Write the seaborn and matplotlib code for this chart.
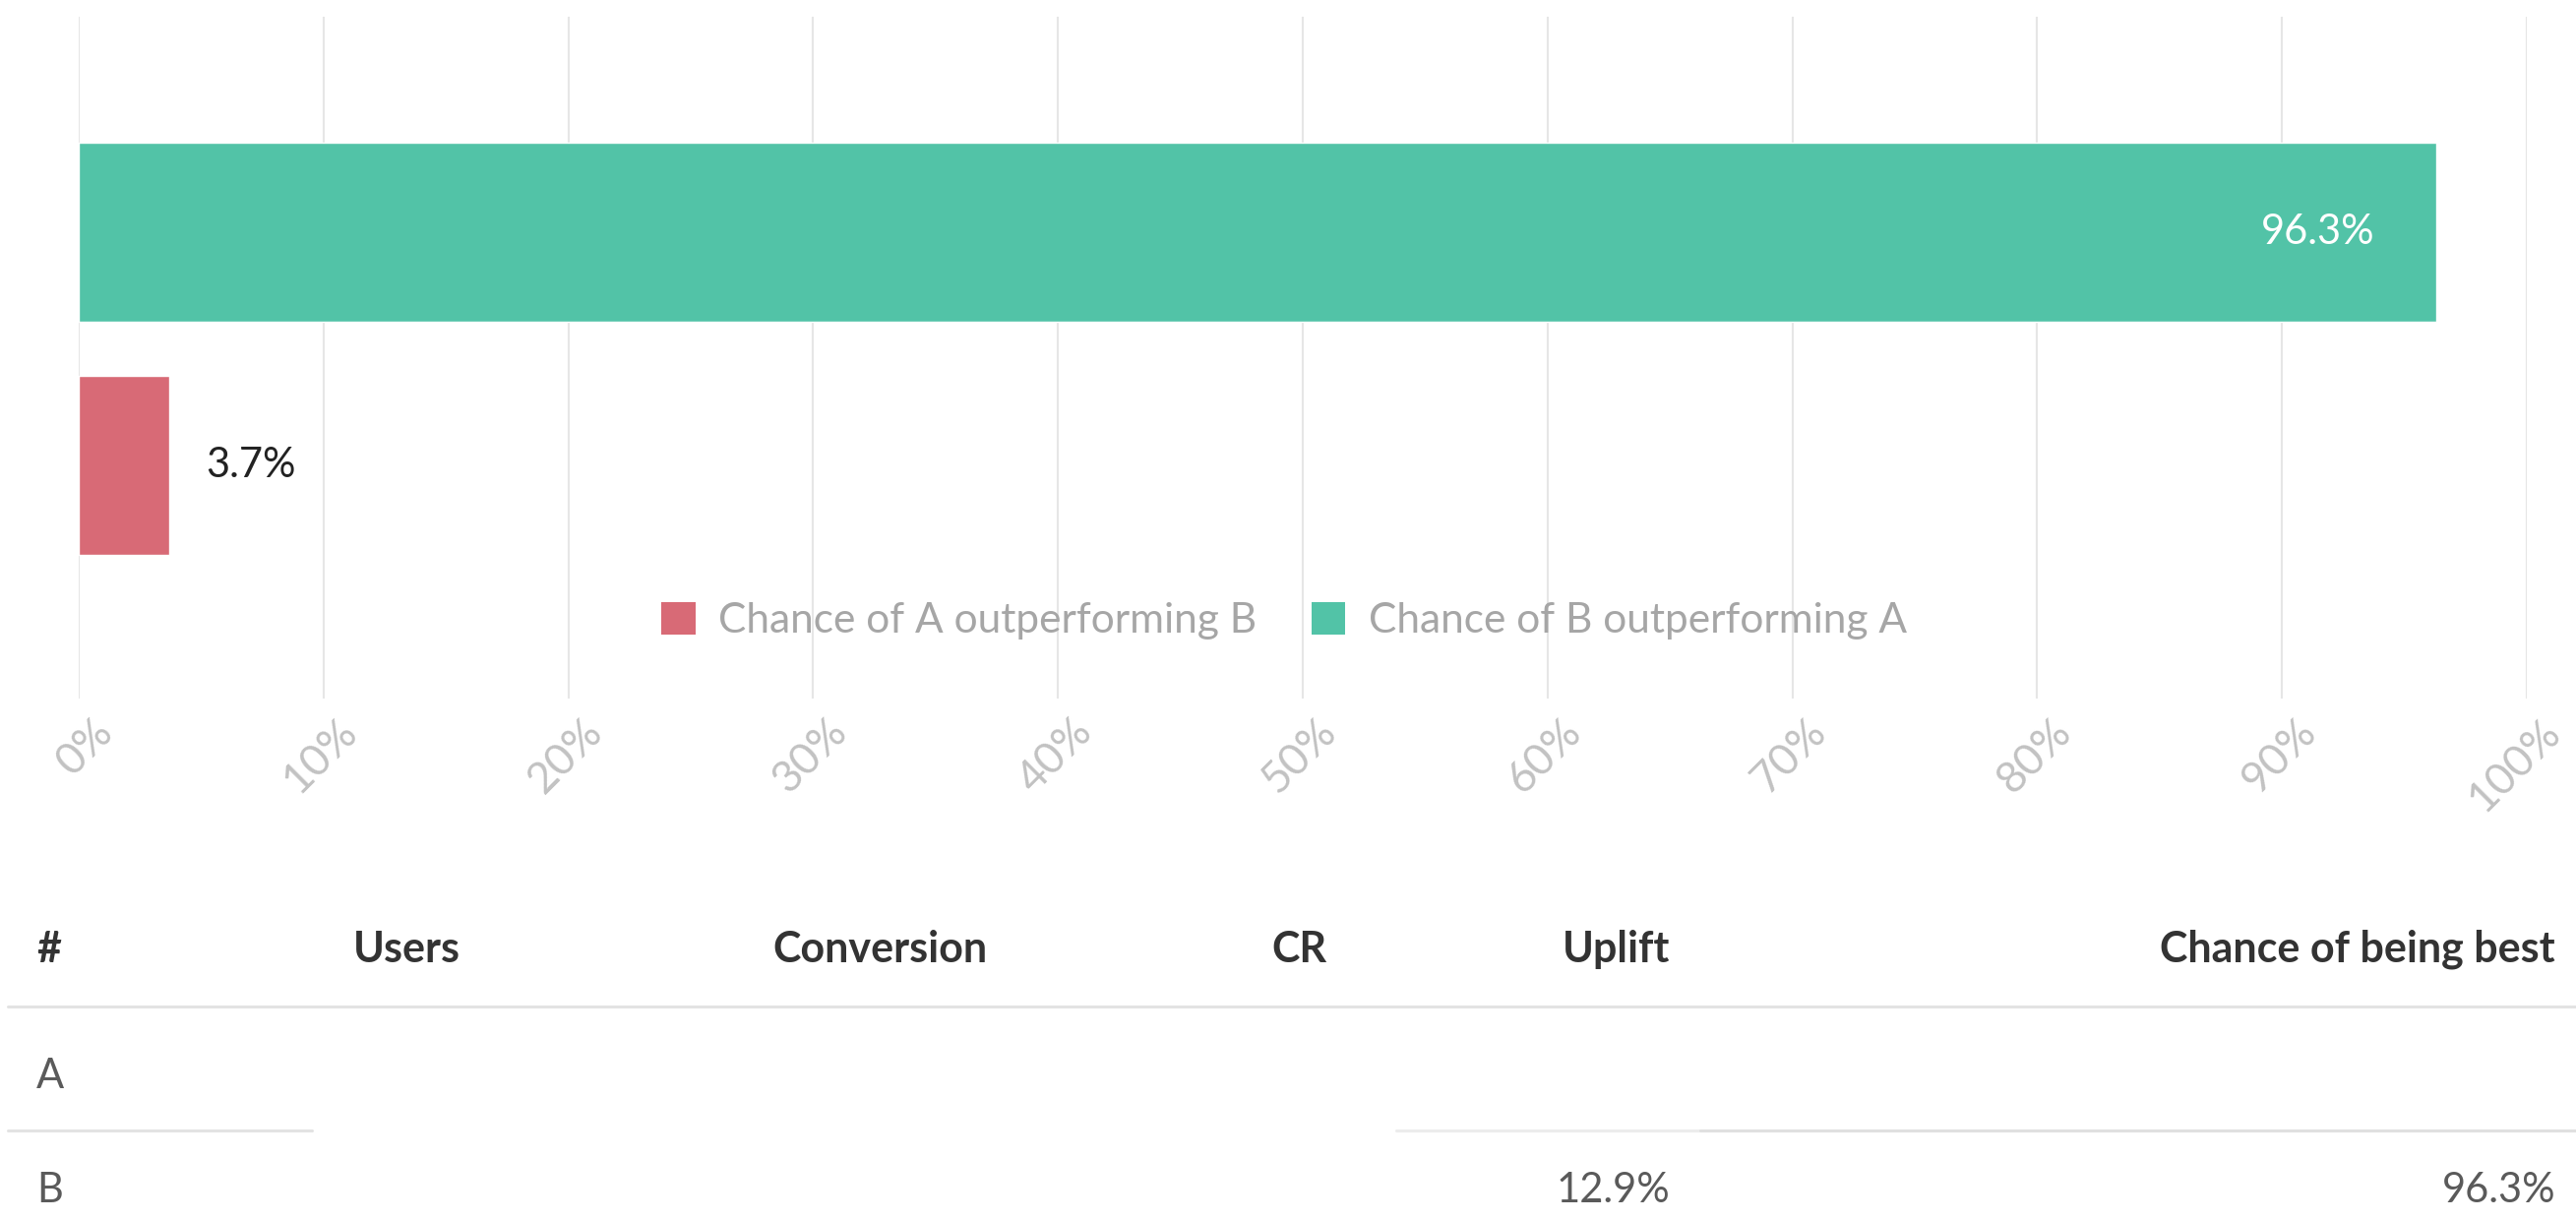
import matplotlib
matplotlib.use("Agg")
import matplotlib.pyplot as plt
import matplotlib.transforms as mtransforms
import seaborn as sns
from matplotlib.patches import Patch
from matplotlib.lines import Line2D

# ---- data ----
series_labels = ["Chance of B outperforming A", "Chance of A outperforming B"]
series_values = [96.3, 3.7]
series_colors = ["#52C3A7", "#D86A76"]
x_ticks = [0, 10, 20, 30, 40, 50, 60, 70, 80, 90, 100]
x_tick_labels = [f"{t}%" for t in x_ticks]

table_columns = ["#", "Users", "Conversion", "CR", "Uplift", "Chance of being best"]
table_rows = [
    ["A", "", "", "", "", ""],
    ["B", "", "", "", "12.9%", "96.3%"],
]

# ---- style ----
sns.set_theme(style="white")
plt.rcParams["font.family"] = ["Lato", "DejaVu Sans"]

W, H = 2618, 1240
fig = plt.figure(figsize=(W / 100, H / 100), dpi=100)

def fx(px):
    return px / W

def fy(py):
    return 1 - py / H

ax = fig.add_axes([fx(80), fy(710), fx(2568) - fx(80), fy(17) - fy(710)])

sns.barplot(x=series_values, y=series_labels, hue=series_labels,
            palette=series_colors, width=0.77, legend=False, orient="h",
            ax=ax, saturation=1)

ax.set_xlim(0, 100)
ax.set_ylim(2.0, -0.924)
ax.set_xticks(x_ticks)
ax.set_xticklabels(x_tick_labels)
ax.set_yticks([])
ax.set_ylabel("")
ax.set_xlabel("")
for s in ax.spines.values():
    s.set_visible(False)
ax.xaxis.grid(True, color="#e6e6e6", linewidth=1.5)
ax.set_axisbelow(True)
ax.tick_params(axis="x", length=0, pad=20, labelsize=32, labelcolor="#c2c2c2")
shift = mtransforms.ScaledTranslation(28 / 100, 0, fig.dpi_scale_trans)
for lab in ax.get_xticklabels():
    lab.set_rotation(45)
    lab.set_ha("right")
    lab.set_va("center")
    lab.set_rotation_mode("anchor")
    lab.set_transform(lab.get_transform() + shift)

# bar value labels
for cont in ax.containers:
    for bar in cont:
        v = bar.get_width()
        yc = bar.get_y() + bar.get_height() / 2
        if v > 50:
            ax.annotate(f"{v:.1f}%", xy=(v, yc), xytext=(-45, 0),
                        textcoords="offset points", ha="right", va="center",
                        color="white", fontsize=30)
        else:
            ax.annotate(f"{v:.1f}%", xy=(v, yc), xytext=(27, 0),
                        textcoords="offset points", ha="left", va="center",
                        color="#222222", fontsize=30)

# legend
handles = [Patch(facecolor=series_colors[1], edgecolor="none", label=series_labels[1]),
           Patch(facecolor=series_colors[0], edgecolor="none", label=series_labels[0])]
leg = fig.legend(handles=handles, loc="center", bbox_to_anchor=(fx(1305), fy(631)),
                 ncol=2, frameon=False, fontsize=30.5, handlelength=0.82, handleheight=0.82,
                 handletextpad=0.55, columnspacing=1.3)
for t in leg.get_texts():
    t.set_color("#a6a6a6")

# ---- table ----
col_x = [37, 359, 785, 1349, 1697, 2597]
col_ha = ["left", "left", "left", "right", "right", "right"]
header_y = 965
row_y = [1094, 1210]

for name, x, ha in zip(table_columns, col_x, col_ha):
    fig.text(fx(x), fy(header_y), name, ha=ha, va="center", fontsize=31,
             fontweight="bold", color="#333333")

for r, yv in zip(table_rows, row_y):
    for val, x, ha in zip(r, col_x, col_ha):
        if val:
            fig.text(fx(x), fy(yv), val, ha=ha, va="center", fontsize=30,
                     color="#5a5a5a")

# table rules
fig.add_artist(Line2D([fx(8), fx(2618)], [fy(1023), fy(1023)], color="#e3e3e3", lw=2.2))
fig.add_artist(Line2D([fx(8), fx(317)], [fy(1149), fy(1149)], color="#e3e3e3", lw=2.2))
fig.add_artist(Line2D([fx(1419), fx(1728)], [fy(1149), fy(1149)], color="#ececec", lw=2.2))
fig.add_artist(Line2D([fx(1728), fx(2618)], [fy(1149), fy(1149)], color="#e0e0e0", lw=2.2))

fig.savefig("out.png", dpi=100, facecolor="white")
